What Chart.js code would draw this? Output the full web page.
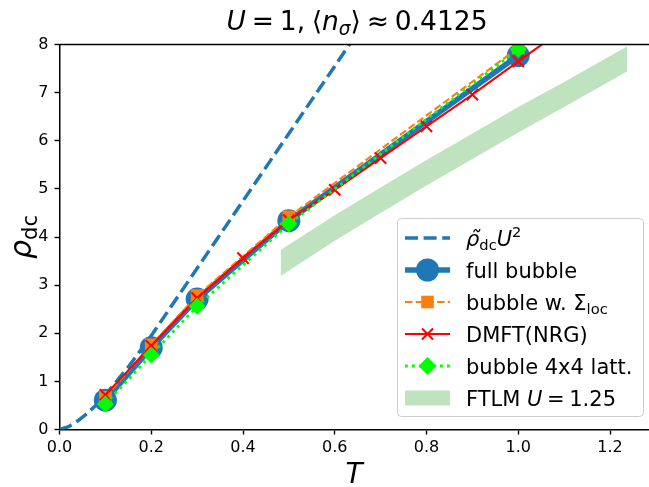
<!DOCTYPE html>
<html>
<head>
<meta charset="utf-8">
<script src="https://cdn.jsdelivr.net/npm/chart.js@4.4.0/dist/chart.umd.min.js"></script>
<style>
  html, body { margin: 0; padding: 0; background: #fff; }
  canvas { display: block; }
</style>
</head>
<body>
<canvas id="chart" width="649" height="487"></canvas>
<script>
// ---- data ----
const xTicks = [0, 0.2, 0.4, 0.6, 0.8, 1.0, 1.2];
const yTicks = [0, 1, 2, 3, 4, 5, 6, 7, 8];

// rho~_dc U^2 reference curve
const tCurve   = [0, 0.02, 0.04, 0.06, 0.08, 0.1, 0.15, 0.2, 0.3, 0.4, 0.5, 0.6, 0.66];
const rhoCurve = [0, 0.06, 0.18, 0.33, 0.51, 0.72, 1.30, 1.95, 3.35, 4.75, 6.15, 7.55, 8.40];

const tBubble    = [0.1, 0.2, 0.3, 0.5, 1.0];
const fullBubble = [0.61, 1.70, 2.71, 4.34, 7.77];
const bubbleLoc  = [0.67, 1.76, 2.78, 4.42, 7.93];
const bubbleLatt = [0.53, 1.55, 2.56, 4.27, 7.90];

const tNrg = [0.1, 0.2, 0.3, 0.4, 0.5, 0.6, 0.7, 0.8, 0.9, 1.0, 1.1];
const nrg  = [0.72, 1.74, 2.73, 3.56, 4.35, 4.98, 5.64, 6.30, 6.96, 7.65, 8.33];

const tFtlm    = [0.482, 0.6, 0.7, 0.8, 0.9, 1.0, 1.1, 1.237];
const ftlmHigh = [3.73, 4.45, 5.03, 5.60, 6.15, 6.70, 7.22, 7.96];
const ftlmLow  = [3.19, 3.92, 4.50, 5.07, 5.62, 6.17, 6.70, 7.44];

const BLUE = '#1f77b4', ORANGE = '#ff7f0e', RED = '#ff0000', LIME = '#00ff00';
const BAND = 'rgba(44,160,44,0.3)';
const FONT = '"DejaVu Sans", sans-serif';

const pts = (xs, ys) => xs.map((x, i) => ({x: x, y: ys[i]}));

// draw a run of styled text pieces; returns total width
function richWidth(ctx, parts, size) {
  let w = 0;
  for (const p of parts) {
    const s = size * (p.scale || 1);
    ctx.font = (p.it ? 'italic ' : '') + s + 'px ' + FONT;
    w += ctx.measureText(p.t).width + (p.gap || 0) * size;
  }
  return w;
}
function drawRich(ctx, parts, x, y, size) {
  let cx = x;
  for (const p of parts) {
    const s = size * (p.scale || 1);
    ctx.font = (p.it ? 'italic ' : '') + s + 'px ' + FONT;
    ctx.fillText(p.t, cx, y + (p.dy || 0) * size);
    cx += ctx.measureText(p.t).width + (p.gap || 0) * size;
  }
}

const titleParts = [
  {t: 'U', it: true, gap: 0.22}, {t: '=', gap: 0.22}, {t: '1,', gap: 0.25},
  {t: '\u27E8'}, {t: 'n', it: true}, {t: '\u03C3', it: true, scale: 0.7, dy: 0.2}, {t: '\u27E9', gap: 0.22},
  {t: '\u2248', gap: 0.22}, {t: '0.4125'}
];

const legendRows = [
  {parts: [{t: '\u03C1\u0303', it: true}, {t: 'dc', scale: 0.7, dy: 0.2}, {t: 'U', it: true}, {t: '2', scale: 0.7, dy: -0.4}], kind: 'curve'},
  {parts: [{t: 'full bubble'}], kind: 'full'},
  {parts: [{t: 'bubble w. \u03A3'}, {t: 'loc', scale: 0.7, dy: 0.2}], kind: 'loc'},
  {parts: [{t: 'DMFT(NRG)'}], kind: 'nrg'},
  {parts: [{t: 'bubble 4x4 latt.'}], kind: 'latt'},
  {parts: [{t: 'FTLM '}, {t: 'U', it: true, gap: 0.22}, {t: '=', gap: 0.22}, {t: '1.25'}], kind: 'band'}
];

function drawHandle(ctx, kind, x0, x1, y) {
  const xm = (x0 + x1) / 2;
  ctx.save();
  if (kind === 'band') {
    ctx.fillStyle = BAND;
    ctx.fillRect(x0, y - 7.5, x1 - x0, 15);
    ctx.restore();
    return;
  }
  const line = {
    curve: [BLUE, 3.5, [13, 5.6]], full: [BLUE, 5.5, []], loc: [ORANGE, 2.1, [7.5, 3.2]],
    nrg: [RED, 2.1, []], latt: [LIME, 2.8, [2.8, 4.2]]
  }[kind];
  ctx.strokeStyle = line[0];
  ctx.lineWidth = line[1];
  ctx.setLineDash(line[2]);
  ctx.beginPath();
  ctx.moveTo(x0, y); ctx.lineTo(x1, y);
  ctx.stroke();
  ctx.setLineDash([]);
  if (kind === 'full') {
    ctx.fillStyle = BLUE;
    ctx.beginPath(); ctx.arc(xm, y, 11.5, 0, Math.PI * 2); ctx.fill();
  } else if (kind === 'loc') {
    ctx.fillStyle = ORANGE;
    ctx.fillRect(xm - 6.3, y - 6.3, 12.6, 12.6);
  } else if (kind === 'nrg') {
    ctx.beginPath();
    ctx.moveTo(xm - 5.5, y - 5.5); ctx.lineTo(xm + 5.5, y + 5.5);
    ctx.moveTo(xm - 5.5, y + 5.5); ctx.lineTo(xm + 5.5, y - 5.5);
    ctx.stroke();
  } else if (kind === 'latt') {
    ctx.fillStyle = LIME;
    ctx.beginPath();
    ctx.moveTo(xm, y - 9); ctx.lineTo(xm + 9, y); ctx.lineTo(xm, y + 9); ctx.lineTo(xm - 9, y);
    ctx.closePath(); ctx.fill();
  }
  ctx.restore();
}

const decor = {
  id: 'decor',
  afterDraw(chart) {
    const ctx = chart.ctx;
    const a = chart.chartArea;
    ctx.save();
    // top spine
    ctx.strokeStyle = '#000';
    ctx.lineWidth = 1.5;
    ctx.beginPath();
    ctx.moveTo(a.left, a.top); ctx.lineTo(a.right, a.top);
    ctx.stroke();

    ctx.fillStyle = '#000';
    ctx.textBaseline = 'alphabetic';
    ctx.textAlign = 'left';

    // title
    const ts = 26.5;
    const tw = richWidth(ctx, titleParts, ts);
    drawRich(ctx, titleParts, 357 - tw / 2, 30, ts);

    // x label
    ctx.font = 'italic 28px ' + FONT;
    ctx.textAlign = 'center';
    ctx.fillText('T', 354, 483);
    ctx.textAlign = 'left';

    // y label
    ctx.save();
    ctx.translate(31, (a.top + a.bottom) / 2);
    ctx.rotate(-Math.PI / 2);
    const yParts = [{t: '\u03C1', it: true}, {t: 'dc', scale: 0.7, dy: 0.2}];
    const yw = richWidth(ctx, yParts, 30);
    drawRich(ctx, yParts, -yw / 2, 0, 30);
    ctx.restore();

    // legend
    const bx = 397.5, by = 218.5, bw = 246, bh = 198, r = 4;
    ctx.beginPath();
    ctx.moveTo(bx + r, by);
    ctx.arcTo(bx + bw, by, bx + bw, by + bh, r);
    ctx.arcTo(bx + bw, by + bh, bx, by + bh, r);
    ctx.arcTo(bx, by + bh, bx, by, r);
    ctx.arcTo(bx, by, bx + bw, by, r);
    ctx.closePath();
    ctx.fillStyle = 'rgba(255,255,255,0.8)';
    ctx.fill();
    ctx.strokeStyle = '#cccccc';
    ctx.lineWidth = 1;
    ctx.stroke();

    legendRows.forEach((row, i) => {
      const ry = 238 + i * 32;
      drawHandle(ctx, row.kind, 405, 450, ry);
      ctx.fillStyle = '#000';
      drawRich(ctx, row.parts, 466, ry + 7.5, 21);
    });
    ctx.restore();
  }
};

const tickFont = {family: FONT, size: 16};

new Chart(document.getElementById('chart'), {
  type: 'scatter',
  data: {
    datasets: [
      {
        data: pts(tCurve, rhoCurve), showLine: true, borderColor: BLUE, borderWidth: 3.5,
        borderDash: [13, 5.6], pointRadius: 0, order: 5
      },
      {
        data: pts(tBubble, fullBubble), showLine: true, borderColor: BLUE, borderWidth: 5.5,
        pointRadius: 11.5, pointBackgroundColor: BLUE, pointBorderWidth: 0, order: 4
      },
      {
        data: pts(tBubble, bubbleLoc), showLine: true, borderColor: ORANGE, borderWidth: 2.1,
        borderDash: [7.5, 3.2], pointStyle: 'rect', pointRadius: 9, pointBackgroundColor: ORANGE,
        pointBorderWidth: 0, order: 3
      },
      {
        data: pts(tNrg, nrg), showLine: true, borderColor: RED, borderWidth: 2.1,
        pointStyle: 'crossRot', pointRadius: 8, pointBorderColor: RED, pointBorderWidth: 2, order: 2
      },
      {
        data: pts(tBubble, bubbleLatt), showLine: true, borderColor: LIME, borderWidth: 2.8,
        borderDash: [2.8, 4.2], pointStyle: 'rectRot', pointRadius: 8.5, pointBackgroundColor: LIME,
        pointBorderWidth: 0, order: 1
      },
      {
        data: pts(tFtlm, ftlmLow), showLine: true, borderWidth: 0, borderColor: 'rgba(0,0,0,0)',
        pointRadius: 0, order: 10
      },
      {
        data: pts(tFtlm, ftlmHigh), showLine: true, borderWidth: 0, borderColor: 'rgba(0,0,0,0)',
        pointRadius: 0, fill: '-1', backgroundColor: BAND, order: 9
      }
    ]
  },
  options: {
    responsive: false,
    animation: false,
    devicePixelRatio: 1,
    layout: {autoPadding: false, padding: {top: 44.5, right: 0, left: 0, bottom: 0}},
    plugins: {legend: {display: false}, tooltip: {enabled: false}, title: {display: false}},
    scales: {
      x: {
        type: 'linear', min: 0, max: 1.285,
        afterFit(s) { s.height = 57.5; s.paddingLeft = 0; s.paddingRight = 0; },
        afterBuildTicks(s) { s.ticks = xTicks.map(v => ({value: v})); },
        ticks: {font: tickFont, color: '#000', padding: 4, maxRotation: 0, autoSkip: false,
                callback: v => v.toFixed(1)},
        grid: {drawOnChartArea: false, tickLength: 5, tickColor: '#000', tickWidth: 1.4},
        border: {color: '#000', width: 1.5}
      },
      y: {
        type: 'linear', min: 0, max: 8,
        afterFit(s) { s.width = 59.5; s.paddingTop = 0; s.paddingBottom = 0; },
        afterBuildTicks(s) { s.ticks = yTicks.map(v => ({value: v})); },
        ticks: {font: tickFont, color: '#000', padding: 6, autoSkip: false,
                callback: v => String(v)},
        grid: {drawOnChartArea: false, tickLength: 5, tickColor: '#000', tickWidth: 1.4},
        border: {color: '#000', width: 1.5}
      }
    }
  },
  plugins: [decor]
});
</script>
</body>
</html>
